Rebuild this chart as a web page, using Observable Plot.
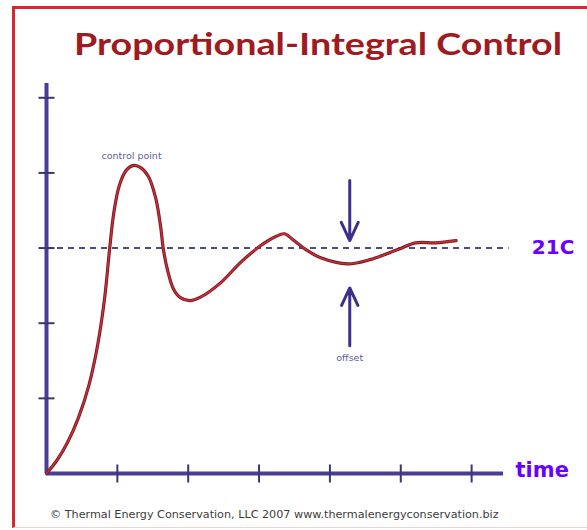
<!DOCTYPE html>
<html><head><meta charset="utf-8">
<script src="https://cdn.jsdelivr.net/npm/d3@7"></script>
<script src="https://cdn.jsdelivr.net/npm/@observablehq/plot@0.6"></script>
<style>
html,body{margin:0;padding:0;background:#fff;}
#wrap{position:relative;width:587px;height:530px;overflow:hidden;background:#fff;}
#frame{position:absolute;left:12px;top:6px;width:575px;height:522px;border-left:3px solid #d42a2f;border-top:3px solid #d42a2f;border-bottom:1px solid #f1d2d2;box-sizing:border-box;}
#chart{position:absolute;left:0;top:0;}
#title{position:absolute;left:0;top:0;}
#caption{position:absolute;left:50px;top:508px;font:11.2px "DejaVu Sans",sans-serif;color:#3d3d3d;white-space:nowrap;}
</style></head><body>
<div id="wrap">
  <div id="frame"></div>
  <div id="chart"></div>
  <svg id="title" width="587" height="80"><text x="74" y="55" textLength="488" lengthAdjust="spacingAndGlyphs" font-family="Lato, sans-serif" font-weight="bold" font-size="31" fill="#9e1b22">Proportional-Integral Control</text></svg>
  <div id="caption">© Thermal Energy Conservation, LLC 2007 www.thermalenergyconservation.biz</div>
</div>
<script>
// Response curve (time units, temperature units)
const timeVals = [0, 0.15, 0.30, 0.45, 0.60, 0.72, 0.82, 0.89, 0.95, 1.03, 1.13, 1.23, 1.33, 1.44, 1.54, 1.61, 1.65, 1.71, 1.79, 1.89, 2.02, 2.18, 2.46, 2.74, 3.02, 3.23, 3.36, 3.48, 3.66, 3.87, 4.25, 4.58, 4.96, 5.21, 5.49, 5.78];
const tempVals = [0, 0.18, 0.42, 0.74, 1.18, 1.70, 2.33, 2.98, 3.47, 3.84, 4.04, 4.10, 4.07, 3.95, 3.67, 3.29, 2.98, 2.70, 2.46, 2.34, 2.30, 2.35, 2.54, 2.81, 3.03, 3.15, 3.19, 3.11, 2.98, 2.87, 2.79, 2.85, 2.98, 3.07, 3.07, 3.10];
const setpoint = 3;
const setpointLabel = ["21C"];
const xTicks = [1, 2, 3, 4, 5, 6];
const yTicks = [1, 2, 3, 4, 5];
const axisEnds = {x: 6.45, y: 5.19};
const arrowX = [4.28, 4.28];
const arrowFrom = [3.90, 1.70];
const arrowTo = [3.10, 2.47];
const annoText = ["control point", "offset"];
const annoX = [1.20, 4.28];
const annoY = [4.23, 1.54];

const curve = timeVals.map((t, i) => ({t, v: tempVals[i]}));
const arrows = arrowX.map((x, i) => ({x, y1: arrowFrom[i], y2: arrowTo[i]}));
const annos = annoText.map((s, i) => ({s, x: annoX[i], y: annoY[i]}));

const vTick = {draw(ctx, size) { const r = Math.sqrt(size / Math.PI); ctx.moveTo(0, -r); ctx.lineTo(0, r); }};
const hTick = {draw(ctx, size) { const r = Math.sqrt(size / Math.PI); ctx.moveTo(-r, 0); ctx.lineTo(r, 0); }};

const axisColor = "#4a3d96";
const chart = Plot.plot({
  width: 587, height: 530,
  marginLeft: 46, marginRight: 84, marginTop: 83, marginBottom: 57,
  x: {domain: [0, axisEnds.x], axis: null},
  y: {domain: [0, axisEnds.y], axis: null},
  style: {background: "transparent", overflow: "visible"},
  marks: [
    Plot.ruleY([setpoint], {x1: 0, x2: 6.53, stroke: "#4b4b85", strokeWidth: 2, strokeDasharray: "6,5"}),
    Plot.ruleY([0], {x1: 0, x2: axisEnds.x, stroke: axisColor, strokeWidth: 4}),
    Plot.ruleX([0], {y1: 0, y2: axisEnds.y, stroke: axisColor, strokeWidth: 4}),
    Plot.dot(xTicks, {x: d => d, y: 0, symbol: vTick, r: 9, fill: "none", stroke: "#3b3570", strokeWidth: 2}),
    Plot.dot(yTicks, {x: 0, y: d => d, symbol: hTick, r: 8, fill: "none", stroke: "#3b3570", strokeWidth: 2}),
    Plot.line(curve, {x: "t", y: "v", curve: "catmull-rom", stroke: "#7a1a22", strokeWidth: 3.2}),
    Plot.line(curve, {x: "t", y: "v", curve: "catmull-rom", stroke: "#c8303a", strokeWidth: 1.4}),
    Plot.arrow(arrows, {x1: "x", y1: "y1", x2: "x", y2: "y2", stroke: "#3d2f8a", strokeWidth: 3, headLength: 11, headAngle: 50}),
    Plot.text(annos, {x: "x", y: "y", text: "s", fill: "#5d5d9a", fontSize: 9.5, fontFamily: "DejaVu Sans, sans-serif"}),
    Plot.text(setpointLabel, {x: 6.85, y: setpoint, text: d => d, textAnchor: "start", fill: "#6a00ff", fontSize: 20, fontWeight: "bold", fontFamily: "DejaVu Sans, sans-serif"}),
    Plot.text(["time"], {x: 6.62, y: 0, dy: -3, text: d => d, textAnchor: "start", fill: "#6a00ff", fontSize: 21, fontWeight: "bold", fontFamily: "DejaVu Sans, sans-serif"})
  ]
});
document.getElementById("chart").appendChild(chart);
</script>
</body></html>
